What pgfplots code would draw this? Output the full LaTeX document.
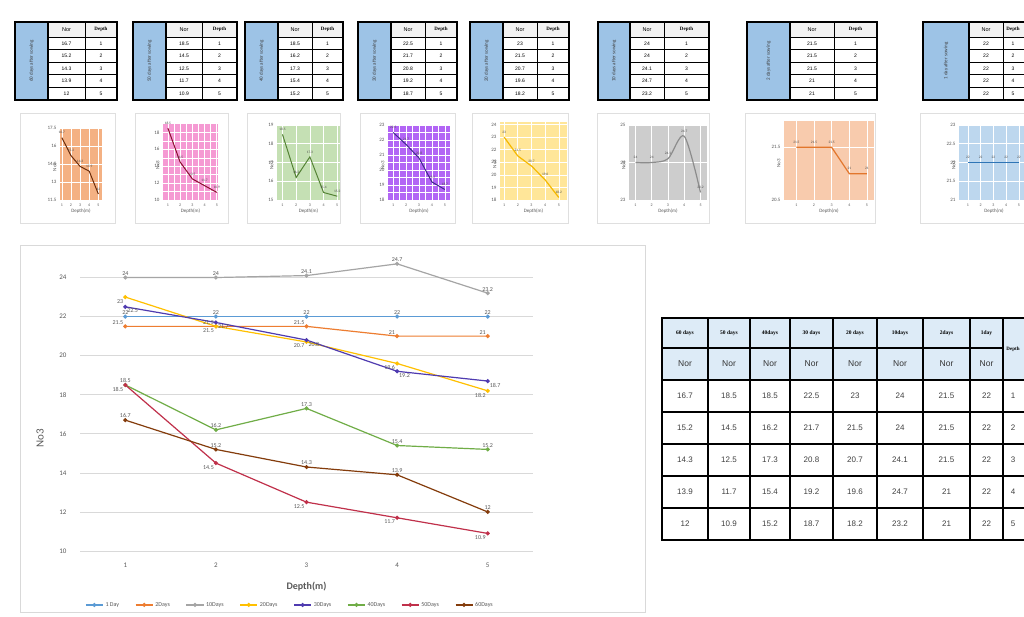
\documentclass[border=0pt]{standalone}
\usepackage{pgfplots}
\pgfplotsset{compat=1.18}
\usepackage{fontspec}
\setmainfont{Carlito}
\newfontfamily\arial{Liberation Sans}
\newfontfamily\tnr{Liberation Serif}

\definecolor{c1}{HTML}{5B9BD5}
\definecolor{c2}{HTML}{ED7D31}
\definecolor{c10}{HTML}{A5A5A5}
\definecolor{c20}{HTML}{FFC000}
\definecolor{c30}{HTML}{4F3BB0}
\definecolor{c40}{HTML}{70AD47}
\definecolor{c50}{HTML}{C0304A}
\definecolor{c60}{HTML}{843C0C}
\definecolor{tabblue}{HTML}{9DC3E6}
\definecolor{hdrblue}{HTML}{DDEBF7}
\definecolor{gridgray}{HTML}{D9D9D9}
\definecolor{txtgray}{HTML}{595959}
\definecolor{bg60}{HTML}{F4B183}
\definecolor{bg50}{HTML}{F59AD3}
\definecolor{bg40}{HTML}{C5E0B4}
\definecolor{bg30}{HTML}{B265F5}
\definecolor{bg20}{HTML}{FFE699}
\definecolor{bg10}{HTML}{CDCDCD}
\definecolor{bg2}{HTML}{F8CBAD}
\definecolor{bg1}{HTML}{BDD7EE}
\definecolor{l60}{HTML}{6B2C0A}
\definecolor{l50}{HTML}{8B0F2E}
\definecolor{l40}{HTML}{548235}
\definecolor{l30}{HTML}{3F2A8C}
\definecolor{l20}{HTML}{F5B800}
\definecolor{l10}{HTML}{8C8C8C}
\definecolor{l2}{HTML}{E2762C}
\definecolor{l1}{HTML}{2E75B6}

\pgfplotsset{
  /pgf/number format/assume math mode=true,
  mini/.style={scale only axis, axis background/.style={fill=#1},
    grid=major, grid style={white, line width=0.6pt},
    axis line style={draw=none}, major tick length=0, minor tick length=0,
    xtick={1,2,3,4,5},
    yticklabel style={font=\fontsize{5}{5}\selectfont, text=txtgray},
    xticklabel style={font=\fontsize{4}{4}\selectfont, text=txtgray},
    xlabel={Depth(m)}, ylabel={No3},
    xlabel style={font=\fontsize{5}{5}\selectfont, text=txtgray, yshift=4pt},
    ylabel style={font=\fontsize{5}{5}\selectfont, text=txtgray, at={(axis description cs:0,0.5)}, anchor=south, xshift=-3pt},
    nodes near coords,
    every node near coord/.append style={font=\fontsize{3.5}{4}\selectfont, text=black!70},
    clip=false,
  },
  minigrid/.style={minor tick num=1, minor grid style={white, line width=0.4pt}, grid=both},
}

\newcommand\smalltab[7]{%
  \fill[tabblue] (#1,22) rectangle (#2,100);
  \fill[gray!10] (#2,22) rectangle (#4,37);
  \foreach \yy in {37,49.6,62.2,74.8,87.4} \draw[line width=0.6pt] (#2,\yy) -- (#4,\yy);
  \draw[line width=0.6pt] (#3,22) -- (#3,100);
  \draw[line width=1.2pt] (#2,22) -- (#2,100);
  \draw[line width=1.6pt] (#1,22) rectangle (#4,100);
  \node[rotate=90, font=\fontsize{5}{6}\selectfont, text=black!75] at ({(#1+#2)/2},61) {#5};
  \node[font=\arial\fontsize{5.5}{6}\selectfont] at ({(#2+#3)/2},29.5) {Nor};
  \node[font=\tnr\bfseries\fontsize{5}{6}\selectfont] at (#7,29.5) {Depth};
  \foreach \v [count=\i] in {#6} {
    \node[font=\arial\fontsize{5}{6}\selectfont] at ({(#2+#3)/2},{37+12.6*(\i-0.5)}) {\v};
    \node[font=\arial\fontsize{5}{6}\selectfont] at (#7,{37+12.6*(\i-0.5)}) {\i};
  }
}

\begin{document}
\begin{tikzpicture}[x=1pt,y=1pt]
\useasboundingbox (0,0) rectangle (1024,617);
\clip (0,0) rectangle (1024,617);
\fill[white] (0,0) rectangle (1024,617);

\begin{scope}[yshift=617pt, y=-1pt]
  % top tables
  \smalltab{15}{48}{85}{117}{60 days after sowing}{16.7,15.2,14.3,13.9,12}{101}
  \smalltab{133}{166}{202}{237}{50 days after sowing}{18.5,14.5,12.5,11.7,10.9}{219.5}
  \smalltab{245}{278}{312}{343}{40 days after sowing}{18.5,16.2,17.3,15.4,15.2}{327.5}
  \smalltab{358}{391}{425}{457}{30 days after sowing}{22.5,21.7,20.8,19.2,18.7}{441}
  \smalltab{470}{503}{537}{569}{20 days after sowing}{23,21.5,20.7,19.6,18.2}{553}
  \smalltab{598}{630}{664}{709}{10 days after sowing}{24,24,24.1,24.7,23.2}{686.5}
  \smalltab{747}{790}{834}{877}{2 days after sowing}{21.5,21.5,21.5,21,21}{855.5}
  \smalltab{923}{969}{1003}{1045}{1 day after sowing}{22,22,22,22,22}{1013}
  % mini chart boxes
  \foreach \a/\b in {20/115,135/228,247/340,360/455,472/568,597/709,745/875,920/1040}
    \draw[gray!25, line width=0.6pt] (\a,113) rectangle (\b,223);
  % main chart box
  \draw[gray!30, line width=0.6pt] (20,245) rectangle (645,612);
  % big table
  \fill[hdrblue] (662,318) rectangle (1050,380);
  \foreach \yy in {380,412,444,476,508} \draw[line width=1.1pt] (662,\yy) -- (1050,\yy);
  \draw[line width=1.1pt] (662,348) -- (1003,348);
  \foreach \xx in {708,750,790,833,877,923,970,1003} \draw[line width=1.3pt] (\xx,318) -- (\xx,540);
  \draw[line width=1.8pt] (662,318) rectangle (1050,540);
  \foreach \cxx/\hd/\a/\b/\c/\d/\e in {685/60 days/16.7/15.2/14.3/13.9/12,
      729/50 days/18.5/14.5/12.5/11.7/10.9, 770/40days/18.5/16.2/17.3/15.4/15.2,
      811.5/30 days/22.5/21.7/20.8/19.2/18.7, 855/20 days/23/21.5/20.7/19.6/18.2,
      900/10days/24/24/24.1/24.7/23.2, 946.5/2days/21.5/21.5/21.5/21/21,
      986.5/1day/22/22/22/22/22} {
    \node[font=\tnr\bfseries\fontsize{5.5}{6}\selectfont] at (\cxx,333) {\hd};
    \node[font=\arial\fontsize{8.5}{9}\selectfont, text=black!80] at (\cxx,364) {Nor};
    \node[font=\arial\fontsize{8}{9}\selectfont, text=black!75] at (\cxx,396) {\a};
    \node[font=\arial\fontsize{8}{9}\selectfont, text=black!75] at (\cxx,428) {\b};
    \node[font=\arial\fontsize{8}{9}\selectfont, text=black!75] at (\cxx,460) {\c};
    \node[font=\arial\fontsize{8}{9}\selectfont, text=black!75] at (\cxx,492) {\d};
    \node[font=\arial\fontsize{8}{9}\selectfont, text=black!75] at (\cxx,524) {\e};
  }
  \node[font=\tnr\bfseries\fontsize{5}{6}\selectfont] at (1013,349) {Depth};
  \foreach \i in {1,...,5} \node[font=\arial\fontsize{8}{9}\selectfont, text=black!75] at (1013,{364+32*\i}) {\i};
\end{scope}

% ---------- mini charts ----------
\begin{axis}[mini=bg60, at={(60pt,417pt)}, anchor=south west, width=42pt, height=72pt,
  xmin=0.8, xmax=5.4, ymin=11.5, ymax=17.5, ytick={11.5,13,14.5,16,17.5}]
\addplot[l60, line width=1pt] coordinates {(1,16.7)(2,15.2)(3,14.3)(4,13.9)(5,12)};
\end{axis}
\begin{axis}[mini=bg50, minigrid, at={(163pt,417pt)}, anchor=south west, width=55pt, height=76pt,
  xmin=0.6, xmax=5.1, ymin=10, ymax=19, ytick={10,12,14,16,18}]
\addplot[l50, line width=1pt] coordinates {(1,18.5)(2,14.5)(3,12.5)(4,11.7)(5,10.9)};
\end{axis}
\begin{axis}[mini=bg40, at={(277pt,417pt)}, anchor=south west, width=63pt, height=75pt,
  xmin=0.6, xmax=5.2, ymin=15, ymax=19, ytick={15,16,17,18,19}]
\addplot[l40, line width=1pt] coordinates {(1,18.5)(2,16.2)(3,17.3)(4,15.4)(5,15.2)};
\end{axis}
\begin{axis}[mini=bg30, minigrid, at={(388pt,417pt)}, anchor=south west, width=62pt, height=75pt,
  xmin=0.6, xmax=5.4, ymin=18, ymax=23, ytick={18,19,20,21,22,23}]
\addplot[l30, line width=1pt] coordinates {(1,22.5)(2,21.7)(3,20.8)(4,19.2)(5,18.7)};
\end{axis}
\begin{axis}[mini=bg20, at={(500pt,417pt)}, anchor=south west, width=67pt, height=78pt,
  xmin=0.7, xmax=5.6, ymin=18, ymax=24.2, ytick={18,19,20,21,22,23,24}]
\addplot[l20, line width=1.2pt] coordinates {(1,23)(2,21.5)(3,20.7)(4,19.6)(5,18.2)};
\end{axis}
\begin{axis}[mini=bg10, at={(629pt,417pt)}, anchor=south west, width=78pt, height=75pt,
  xmin=0.6, xmax=5.4, ymin=23, ymax=25, ytick={23,24,25}]
\addplot[l10, line width=1.2pt, smooth] coordinates {(1,24)(2,24)(3,24.1)(4,24.7)(5,23.2)};
\end{axis}
\begin{axis}[mini=bg2, at={(784pt,417pt)}, anchor=south west, width=90pt, height=79pt,
  xmin=0.3, xmax=5.4, ymin=20.5, ymax=22, ytick={20.5,21.5}]
\addplot[l2, line width=1.2pt] coordinates {(1,21.5)(2,21.5)(3,21.5)(4,21)(5,21)};
\end{axis}
\begin{axis}[mini=bg1, at={(959pt,417pt)}, anchor=south west, width=70pt, height=75pt,
  xmin=0.3, xmax=5.8, ymin=21, ymax=23, ytick={21,21.5,22,22.5,23}]
\addplot[l1, line width=1pt] coordinates {(1,22)(2,22)(3,22)(4,22)(5,22)};
\end{axis}

% ---------- main chart ----------
\begin{axis}[at={(80pt,66pt)}, anchor=south west, scale only axis, width=453pt, height=293pt,
  xmin=0.5, xmax=5.5, ymin=10, ymax=25, xtick={1,2,3,4,5}, ytick={10,12,...,24},
  ymajorgrids, grid style={gridgray, line width=0.6pt},
  axis line style={draw=none}, major tick length=0,
  tick label style={font=\fontsize{7}{8}\selectfont, text=txtgray},
  xticklabel style={yshift=-8pt}, yticklabel style={xshift=-10pt},
  xlabel={Depth(m)}, xlabel style={font=\bfseries\fontsize{10}{12}\selectfont, text=txtgray, at={(axis description cs:0.5,-0.12)}, anchor=center},
  ylabel={No3}, ylabel style={font=\fontsize{11}{12}\selectfont, text=txtgray, at={(axis description cs:-0.088,0.386)}, anchor=center},
  clip=false,
  nodes near coords,
  every node near coord/.append style={font=\fontsize{6}{7}\selectfont, text=txtgray, inner sep=1.5pt},
  legend columns=8,
  legend style={at={(0.4636,-0.184)}, anchor=center, draw=none, fill=none,
    font=\fontsize{6}{7}\selectfont, text=txtgray,
    /tikz/every even column/.append style={column sep=14pt}},
  every axis plot/.append style={line width=1.2pt, mark=*, mark size=1.4pt},
]
\addplot[c1, mark options={fill=c1}] coordinates {(1,22)(2,22)(3,22)(4,22)(5,22)};
\addlegendentry{1 Day}
\addplot[c2, mark options={fill=c2}, every node near coord/.append style={anchor=south east}] coordinates {(1,21.5)(2,21.5)(3,21.5)(4,21)(5,21)};
\addlegendentry{2Days}
\addplot[c10, mark options={fill=c10}] coordinates {(1,24)(2,24)(3,24.1)(4,24.7)(5,23.2)};
\addlegendentry{10Days}
\addplot[c20, mark options={fill=c20}, every node near coord/.append style={anchor=north east}] coordinates {(1,23)(2,21.5)(3,20.7)(4,19.6)(5,18.2)};
\addlegendentry{20Days}
\addplot[c30, mark options={fill=c30}, every node near coord/.append style={anchor=north west}] coordinates {(1,22.5)(2,21.7)(3,20.8)(4,19.2)(5,18.7)};
\addlegendentry{30Days}
\addplot[c40, mark options={fill=c40}] coordinates {(1,18.5)(2,16.2)(3,17.3)(4,15.4)(5,15.2)};
\addlegendentry{40Days}
\addplot[c50, mark options={fill=c50}, every node near coord/.append style={anchor=north east}] coordinates {(1,18.5)(2,14.5)(3,12.5)(4,11.7)(5,10.9)};
\addlegendentry{50Days}
\addplot[c60, mark options={fill=c60}] coordinates {(1,16.7)(2,15.2)(3,14.3)(4,13.9)(5,12)};
\addlegendentry{60Days}
\end{axis}
\end{tikzpicture}
\end{document}
